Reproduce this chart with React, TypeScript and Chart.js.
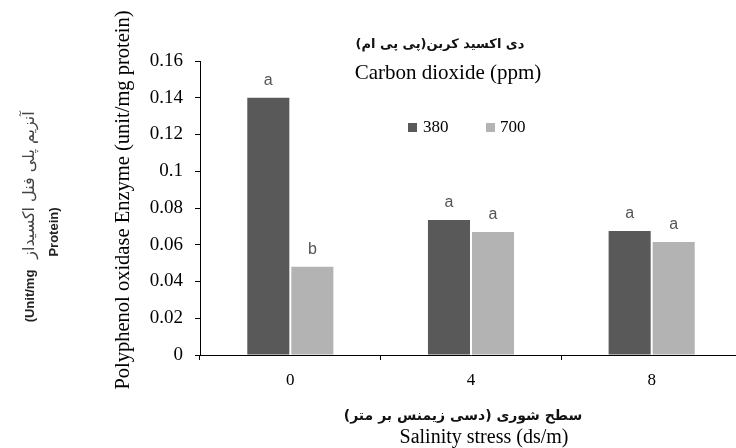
import { useEffect, useRef } from "react";
import { Chart, registerables } from "chart.js";

Chart.register(...registerables);

const categories = ["0", "4", "8"];
const seriesNames = ["380", "700"];
const series380 = [0.14, 0.0735, 0.0675];
const series700 = [0.048, 0.067, 0.0615];
const letters380 = ["a", "a", "a"];
const letters700 = ["b", "a", "a"];
const seriesColors = ["#595959", "#b3b3b3"];
const yTicks = [0, 0.02, 0.04, 0.06, 0.08, 0.1, 0.12, 0.14, 0.16];

const titleFa = "دی اکسید کربن(پی پی ام)";
const titleEn = "Carbon dioxide (ppm)";
const xTitleFa = "سطح شوری (دسی زیمنس بر متر)";
const xTitleEn = "Salinity stress (ds/m)";
const yTitleEn = "Polyphenol oxidase Enzyme (unit/mg protein)";
const yTitleFa = "آنزیم پلی فنل اکسیداز";
const yUnit1 = "(Unit/mg";
const yUnit2 = "Protein)";

const SERIF = "'Liberation Serif', 'Times New Roman', serif";
const SANS = "'Liberation Sans', Arial, sans-serif";
const FA = "'DejaVu Sans', sans-serif";

function rotText(ctx: CanvasRenderingContext2D, text: string, x: number, y: number, font: string, color: string, rtl = false) {
  ctx.save();
  ctx.translate(x, y);
  ctx.rotate(-Math.PI / 2);
  ctx.font = font;
  ctx.fillStyle = color;
  ctx.textAlign = "center";
  ctx.textBaseline = "middle";
  (ctx as any).direction = rtl ? "rtl" : "ltr";
  ctx.fillText(text, 0, 0);
  ctx.restore();
}

function text(ctx: CanvasRenderingContext2D, t: string, x: number, y: number, font: string, color: string, rtl = false, align: CanvasTextAlign = "center") {
  ctx.save();
  ctx.font = font;
  ctx.fillStyle = color;
  ctx.textAlign = align;
  ctx.textBaseline = "middle";
  (ctx as any).direction = rtl ? "rtl" : "ltr";
  ctx.fillText(t, x, y);
  ctx.restore();
}

const annotations = {
  id: "annotations",
  afterDraw(chart: any) {
    const ctx: CanvasRenderingContext2D = chart.ctx;
    const letterSets = [letters380, letters700];
    ctx.save();
    ctx.font = `16px ${SANS}`;
    ctx.fillStyle = "#555555";
    ctx.textAlign = "center";
    ctx.textBaseline = "alphabetic";
    letterSets.forEach((letters, i) => {
      const meta = chart.getDatasetMeta(i);
      meta.data.forEach((bar: any, j: number) => {
        ctx.fillText(letters[j], bar.x, bar.y - 13);
      });
    });
    ctx.restore();

    // legend
    const legendItems = [
      { sq: 408, tx: 423 },
      { sq: 486, tx: 500 },
    ];
    legendItems.forEach((it, i) => {
      ctx.save();
      ctx.fillStyle = seriesColors[i];
      ctx.fillRect(it.sq, 123, 9, 9);
      ctx.restore();
      text(ctx, seriesNames[i], it.tx, 128, `17px ${SERIF}`, "#000", false, "left");
    });

    // title
    text(ctx, titleFa, 440, 45, `bold 13px ${FA}`, "#111", true);
    text(ctx, titleEn, 448, 73, `21px ${SERIF}`, "#000");

    // x title
    text(ctx, xTitleFa, 463, 416, `bold 14px ${FA}`, "#111", true);
    text(ctx, xTitleEn, 484, 438, `20px ${SERIF}`, "#000");

    // y titles
    rotText(ctx, yTitleEn, 124, 200, `20.5px ${SERIF}`, "#000");
    rotText(ctx, yTitleFa, 30, 185, `16px ${FA}`, "#444", true);
    rotText(ctx, yUnit1, 30, 296, `bold 13px ${SANS}`, "#222");
    rotText(ctx, yUnit2, 54, 232, `bold 13px ${SANS}`, "#222");
  },
};

export default function App() {
  const ref = useRef<HTMLCanvasElement>(null);
  useEffect(() => {
    if (!ref.current) return;
    const chart = new Chart(ref.current, {
      type: "bar",
      data: {
        labels: categories,
        datasets: [
          { label: seriesNames[0], data: series380, backgroundColor: seriesColors[0], categoryPercentage: 0.4875, barPercentage: 0.955 },
          { label: seriesNames[1], data: series700, backgroundColor: seriesColors[1], categoryPercentage: 0.4875, barPercentage: 0.955 },
        ],
      },
      options: {
        responsive: false,
        animation: false,
        layout: { padding: { top: 61, left: 0, right: 0, bottom: 0 } },
        plugins: { legend: { display: false }, title: { display: false }, tooltip: { enabled: false } },
        scales: {
          x: {
            grid: { drawOnChartArea: false, drawTicks: true, tickLength: 5, color: "#000", offset: true },
            border: { color: "#000", width: 1 },
            ticks: { color: "#000", font: { family: SERIF, size: 17 }, padding: 10 },
            afterFit: (s: any) => { s.height = 93; },
          },
          y: {
            min: 0,
            max: 0.16,
            grid: { drawOnChartArea: false, drawTicks: true, tickLength: 5, color: "#000" },
            border: { color: "#000", width: 1 },
            ticks: {
              color: "#000",
              font: { family: SERIF, size: 19 },
              padding: 12,
              callback: (v: any) => String(Number(Number(v).toFixed(2))),
            },
            afterBuildTicks: (s: any) => { s.ticks = yTicks.map((v) => ({ value: v })); },
            afterFit: (s: any) => { s.width = 200; },
          },
        },
      },
      plugins: [annotations],
    });
    return () => chart.destroy();
  }, []);
  return (
    <div style={{ position: "absolute", left: 0, top: 0, width: 736, height: 448, overflow: "hidden", background: "#fff" }}>
      <canvas ref={ref} width={742} height={448} style={{ display: "block" }} />
    </div>
  );
}
